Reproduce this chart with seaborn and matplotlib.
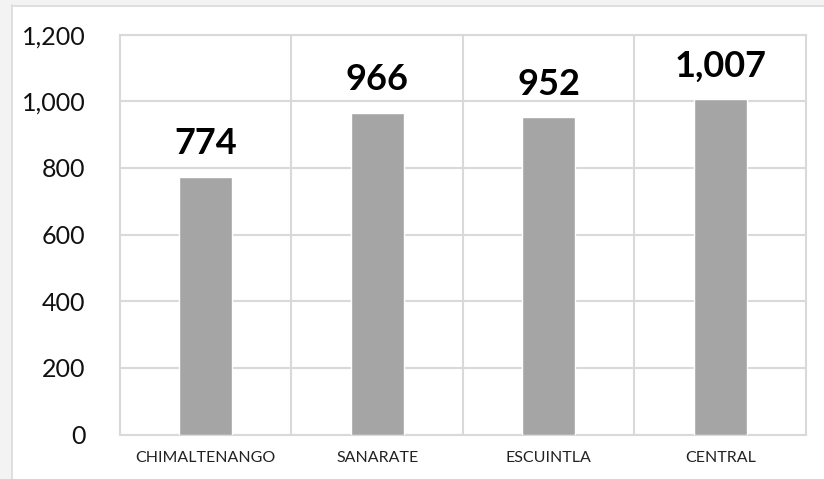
import matplotlib
matplotlib.use("Agg")
import matplotlib.pyplot as plt
import seaborn as sns
import pandas as pd
from matplotlib.patches import Rectangle
from matplotlib.ticker import FuncFormatter, FixedLocator

categories = ["CHIMALTENANGO", "SANARATE", "ESCUINTLA", "CENTRAL"]
values = [774, 966, 952, 1007]
y_ticks = [0, 200, 400, 600, 800, 1000, 1200]

df = pd.DataFrame({"cat": categories, "val": values})

sns.set_theme(style="white")
plt.rcParams["font.family"] = ["Lato", "DejaVu Sans"]

W, H = 824, 479
fig = plt.figure(figsize=(W / 100, H / 100), dpi=100)
fig.patch.set_facecolor("white")

# outer light background strips and panel border
fig.add_artist(Rectangle((0, 0), 11 / W, 1, transform=fig.transFigure,
                         facecolor="#f3f3f3", edgecolor="none", zorder=0))
fig.add_artist(Rectangle((0, 1 - 5 / H), 1, 5 / H, transform=fig.transFigure,
                         facecolor="#f3f3f3", edgecolor="none", zorder=0))
fig.add_artist(plt.Line2D([11.5 / W, 11.5 / W], [0, 1 - 5 / H], transform=fig.transFigure,
                          color="#d9d9d9", lw=1.2, zorder=1))
fig.add_artist(plt.Line2D([11.5 / W, 1], [1 - 5.5 / H, 1 - 5.5 / H], transform=fig.transFigure,
                          color="#d9d9d9", lw=1.2, zorder=1))

ax = fig.add_axes([120 / W, 1 - 434.5 / H, (806 - 120) / W, (434.5 - 34.7) / H])
ax.set_facecolor("white")

sns.barplot(data=df, x="cat", y="val", color="#a5a5a5", width=0.31,
            saturation=1, ax=ax, zorder=3)

ax.set_ylim(0, 1200)
ax.set_xlim(-0.5, len(categories) - 0.5)
ax.yaxis.set_major_locator(FixedLocator(y_ticks))
ax.yaxis.set_major_formatter(FuncFormatter(lambda v, p: f"{int(v):,}"))
ax.xaxis.set_minor_locator(FixedLocator([i + 0.5 for i in range(len(categories) - 1)]))
ax.grid(True, axis="y", which="major", color="#d9d9d9", lw=1.5, zorder=0)
ax.grid(True, axis="x", which="minor", color="#d9d9d9", lw=1.5, zorder=0)
ax.grid(False, axis="x", which="major")
ax.set_axisbelow(True)

for s in ax.spines.values():
    s.set_color("#d9d9d9")
    s.set_linewidth(1.5)
    s.set_visible(True)

ax.set_xlabel("")
ax.set_ylabel("")
ax.tick_params(axis="y", length=0, pad=25, labelsize=18, labelcolor="#111111")
ax.tick_params(axis="x", which="both", length=0, pad=12, labelsize=11.5, labelcolor="#222222")

for i, v in enumerate(values):
    ax.annotate(f"{v:,}", (i, v), xytext=(0, 12), textcoords="offset points",
                ha="center", va="bottom", fontsize=26, fontweight="bold", color="black")

fig.savefig("out.png", dpi=100)
